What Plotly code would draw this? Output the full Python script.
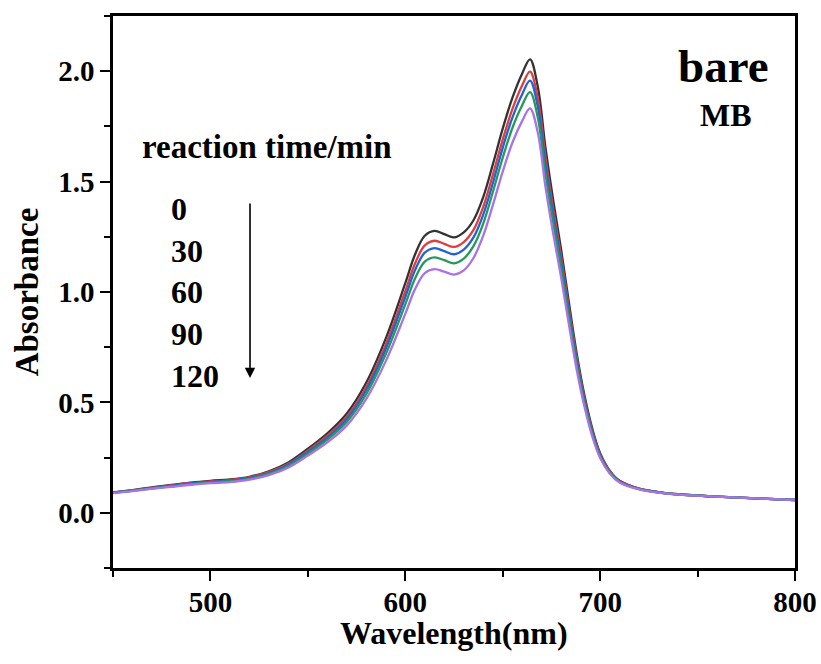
import plotly.graph_objects as go

wavelength = [450, 460, 470, 480, 490, 500, 510, 520, 530, 540, 550, 560, 570, 580, 590, 600,
              605, 610, 615, 620, 625, 630, 635, 640, 645, 650, 655, 660, 664, 668, 672, 676,
              680, 684, 688, 692, 696, 700, 705, 710, 720, 730, 740, 760, 780, 800]

abs_0 = [0.092, 0.103, 0.115, 0.126, 0.137, 0.145, 0.151, 0.163, 0.188, 0.228, 0.290, 0.360,
         0.450, 0.590, 0.790, 1.040, 1.170, 1.255, 1.277, 1.262, 1.247, 1.270, 1.325, 1.430,
         1.580, 1.740, 1.880, 1.990, 2.054, 1.930, 1.650, 1.410, 1.190, 0.950, 0.720, 0.530,
         0.380, 0.270, 0.190, 0.145, 0.110, 0.094, 0.084, 0.073, 0.065, 0.058]
abs_30 = [0.091, 0.102, 0.113, 0.124, 0.135, 0.142, 0.148, 0.160, 0.184, 0.222, 0.282, 0.349,
          0.436, 0.571, 0.763, 1.004, 1.129, 1.211, 1.232, 1.218, 1.204, 1.226, 1.281, 1.385,
          1.533, 1.690, 1.829, 1.936, 1.998, 1.878, 1.606, 1.372, 1.159, 0.925, 0.702, 0.517,
          0.371, 0.264, 0.187, 0.143, 0.109, 0.093, 0.084, 0.073, 0.065, 0.058]
abs_60 = [0.091, 0.101, 0.112, 0.122, 0.133, 0.140, 0.146, 0.157, 0.180, 0.218, 0.276, 0.341,
          0.425, 0.556, 0.743, 0.977, 1.099, 1.178, 1.199, 1.185, 1.171, 1.192, 1.247, 1.350,
          1.495, 1.653, 1.791, 1.896, 1.957, 1.839, 1.573, 1.344, 1.135, 0.907, 0.688, 0.508,
          0.365, 0.260, 0.184, 0.141, 0.108, 0.093, 0.083, 0.073, 0.065, 0.058]
abs_90 = [0.090, 0.100, 0.110, 0.120, 0.130, 0.138, 0.143, 0.154, 0.176, 0.212, 0.268, 0.331,
          0.412, 0.538, 0.719, 0.944, 1.061, 1.138, 1.157, 1.144, 1.130, 1.151, 1.208, 1.310,
          1.455, 1.608, 1.744, 1.846, 1.905, 1.790, 1.531, 1.309, 1.106, 0.884, 0.671, 0.495,
          0.357, 0.255, 0.181, 0.139, 0.107, 0.092, 0.083, 0.073, 0.065, 0.058]
abs_120 = [0.089, 0.098, 0.109, 0.118, 0.127, 0.134, 0.139, 0.150, 0.171, 0.205, 0.259, 0.319,
           0.396, 0.516, 0.687, 0.901, 1.013, 1.086, 1.104, 1.092, 1.079, 1.098, 1.154, 1.255,
           1.396, 1.545, 1.677, 1.775, 1.832, 1.722, 1.473, 1.260, 1.065, 0.851, 0.647, 0.479,
           0.345, 0.248, 0.177, 0.137, 0.106, 0.091, 0.082, 0.073, 0.065, 0.058]

series = [("0", abs_0, "#333333"), ("30", abs_30, "#e03e3e"), ("60", abs_60, "#2262d4"),
          ("90", abs_90, "#25995a"), ("120", abs_120, "#a873e6")]
time_labels = ["0", "30", "60", "90", "120"]

FONT = "Liberation Serif"

fig = go.Figure()
for name, vals, col in series:
    fig.add_trace(go.Scatter(x=wavelength, y=vals, mode="lines", name=name,
                             line=dict(color=col, width=2.3, shape="spline", smoothing=1.0),
                             showlegend=False))

axis_common = dict(showgrid=False, zeroline=False, showline=True, linecolor="black",
                   linewidth=2.5, mirror=True, ticks="outside", ticklen=10, tickwidth=2.2,
                   tickcolor="black", automargin=False)

fig.update_xaxes(range=[450, 800], tick0=0, dtick=100, ticklabelstandoff=-4,
                 tickfont=dict(family=FONT, size=29, color="black", weight="bold"),
                 minor=dict(dtick=50, ticks="outside", ticklen=6, tickwidth=2.2, tickcolor="black"),
                 **axis_common)
fig.update_yaxes(range=[-0.25, 2.25], tick0=0, dtick=0.5, tickformat=".1f",
                 tickfont=dict(family=FONT, size=29, color="black", weight="bold"),
                 title=dict(text="Absorbance", standoff=10,
                            font=dict(family=FONT, size=33, color="black", weight="bold")),
                 minor=dict(dtick=0.25, ticks="outside", ticklen=6, tickwidth=2.2, tickcolor="black"),
                 **axis_common)

ann = []
ann.append(dict(text="Wavelength(nm)", x=0.5, y=-0.118, xref="paper", yref="paper",
                showarrow=False, xanchor="center", yanchor="middle",
                font=dict(family=FONT, size=32, color="black", weight="bold")))
ann.append(dict(text="bare", x=0.895, y=0.909, xref="paper", yref="paper", showarrow=False,
                xanchor="center", yanchor="middle",
                font=dict(family=FONT, size=47, color="black", weight="bold")))
ann.append(dict(text="MB", x=0.899, y=0.821, xref="paper", yref="paper", showarrow=False,
                xanchor="center", yanchor="middle",
                font=dict(family=FONT, size=32, color="black", weight="bold")))
ann.append(dict(text="reaction time/min", x=0.039, y=0.762, xref="paper", yref="paper",
                showarrow=False, xanchor="left", yanchor="middle",
                font=dict(family=FONT, size=33, color="black", weight="bold")))
label_y = [0.650, 0.574, 0.500, 0.424, 0.348]
for t, yy in zip(time_labels, label_y):
    ann.append(dict(text=t, x=0.082, y=yy, xref="paper", yref="paper", showarrow=False,
                    xanchor="left", yanchor="middle",
                    font=dict(family=FONT, size=32, color="black", weight="bold")))
ann.append(dict(text="", x=0.2009, y=0.344, xref="paper", yref="paper", showarrow=True,
                ax=0, ay=-176, axref="pixel", ayref="pixel", arrowhead=2, arrowsize=1.3,
                arrowwidth=1.6, arrowcolor="black", standoff=0, startstandoff=0))
fig.update_layout(annotations=ann)

fig.update_layout(width=821, height=664, margin=dict(l=113, r=26, t=16, b=96),
                  plot_bgcolor="white", paper_bgcolor="white")

fig.write_html("out.html")
